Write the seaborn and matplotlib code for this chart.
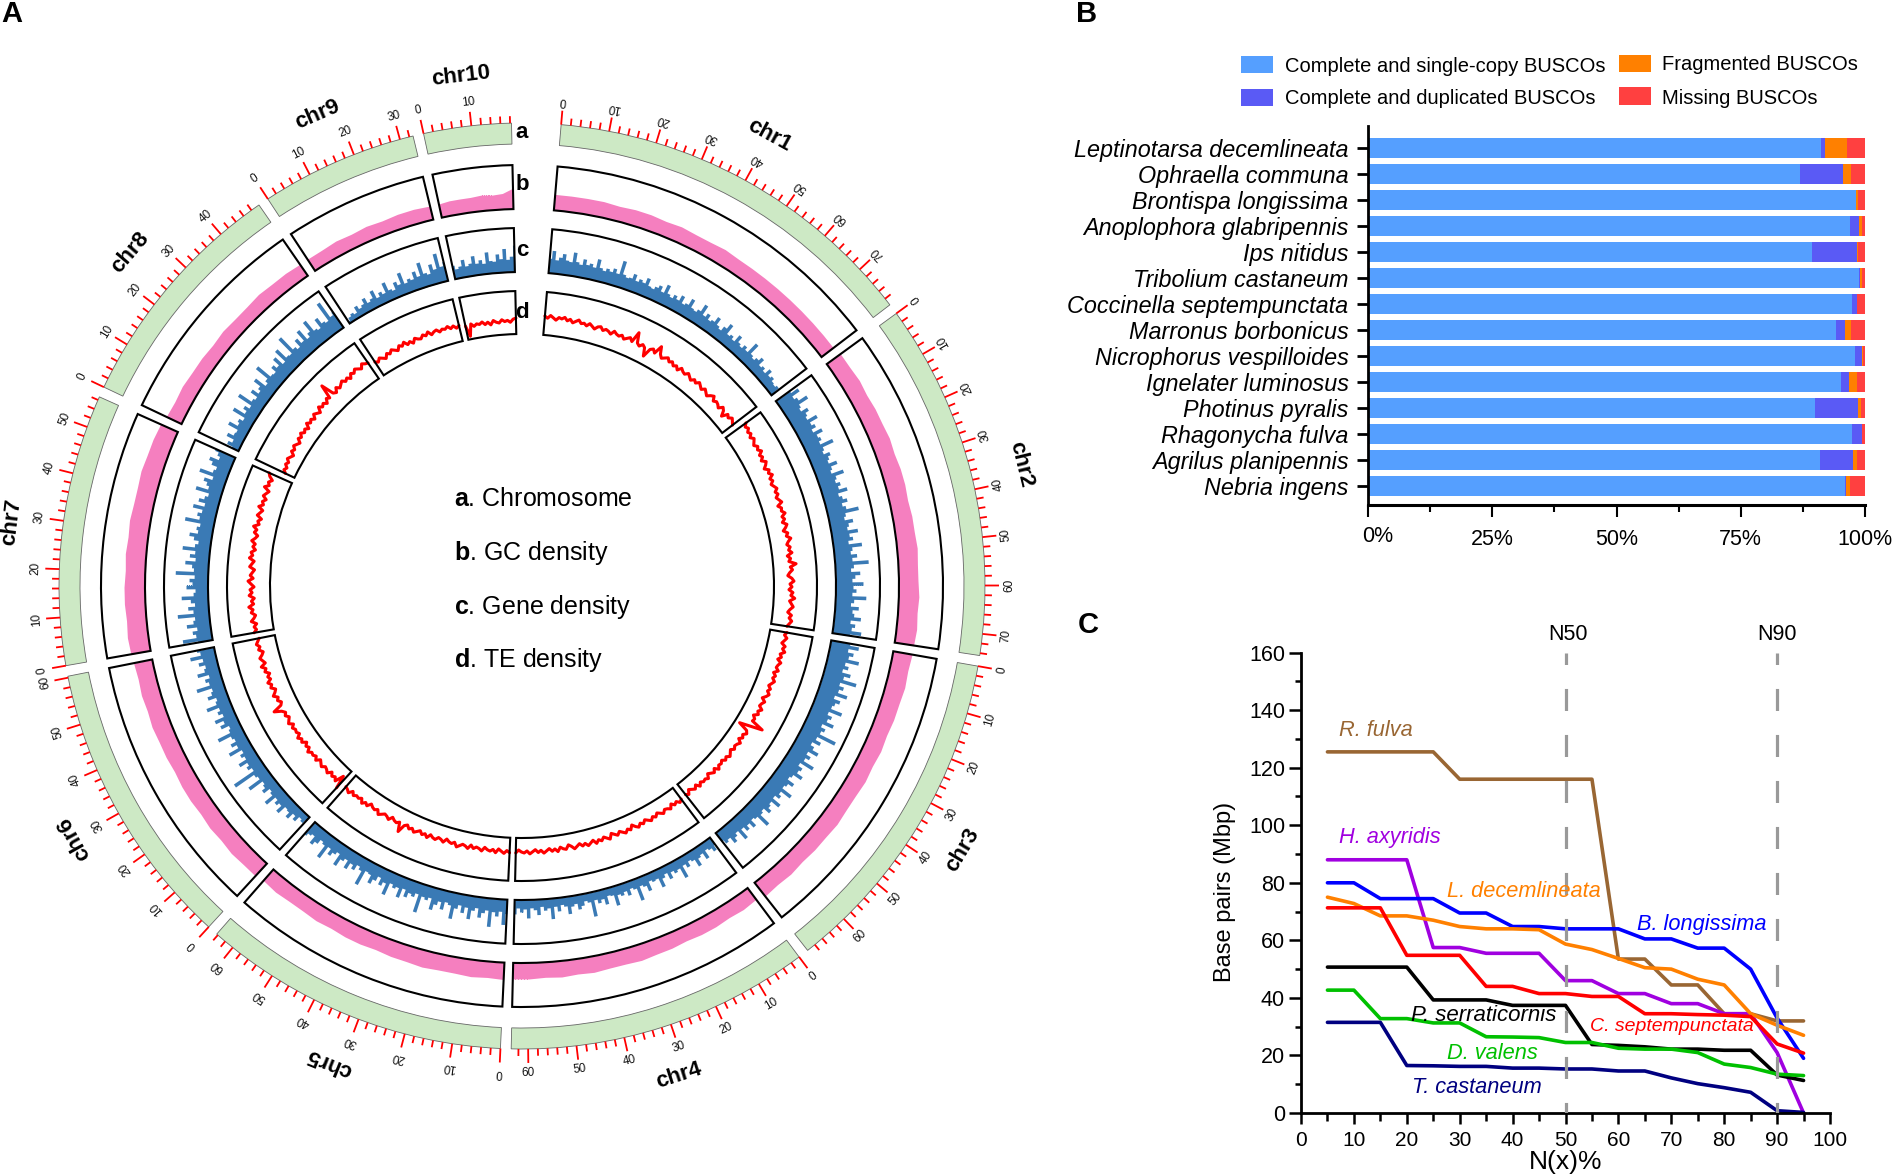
# -*- coding: utf-8 -*-
"""Genome assembly figure: circos overview, BUSCO bars and N(x) curves"""
import numpy as np
import pandas as pd
import seaborn as sns
import matplotlib.pyplot as plt
from matplotlib.patches import Rectangle
from matplotlib.ticker import MultipleLocator, FuncFormatter

W, H = 1895, 1176

sns.set_theme(style='ticks', rc={'text.color': 'black', 'axes.labelcolor': 'black',
                                 'xtick.color': 'black', 'ytick.color': 'black',
                                 'axes.edgecolor': 'black'})
plt.rcParams['font.family'] = ['Liberation Sans', 'DejaVu Sans']
plt.rcParams['mathtext.fontset'] = 'custom'
plt.rcParams['mathtext.bf'] = 'Liberation Sans:bold'
plt.rcParams['mathtext.rm'] = 'Liberation Sans'

# ========================
# Panel A data
# ========================
chr_names = ['chr1', 'chr2', 'chr3', 'chr4', 'chr5', 'chr6', 'chr7', 'chr8', 'chr9', 'chr10']
chr_len = [79.6, 74.5, 69.9, 63.5, 64.3, 60.3, 56.7, 49.9, 32.8, 18.3]

gc_chr1 = [16, 16, 16, 16, 15, 16, 16, 15, 16, 15, 15, 16, 15, 15, 15, 15, 15, 15, 15, 15, 15]
gc_chr2 = [17, 17, 18, 17, 18, 18, 19, 18, 19, 19, 18, 19, 19, 20, 19, 19, 20, 19, 20, 19]
gc_chr3 = [19, 18, 19, 18, 18, 17, 18, 17, 18, 17, 17, 18, 17, 17, 16, 17, 16, 17]
gc_chr4 = [14, 15, 14, 15, 15, 14, 15, 15, 16, 15, 15, 16, 15, 16, 15, 16, 16]
gc_chr5 = [17, 16, 17, 16, 16, 17, 16, 16, 15, 16, 16, 15, 16, 15, 15, 16, 15]
gc_chr6 = [17, 17, 18, 17, 18, 17, 18, 18, 17, 18, 18, 19, 18, 19, 18, 19]
gc_chr7 = [20, 21, 20, 21, 21, 20, 21, 20, 21, 20, 20, 21, 20, 20, 19]
gc_chr8 = [17, 16, 17, 16, 16, 15, 16, 15, 15, 16, 15, 15, 14]
gc_chr9 = [14, 14, 15, 14, 15, 14, 15, 15, 14]
gc_chr10 = [14, 15, 15, 15, 16, 15, 16, 21]

gene_chr1 = [15, 23, 14, 17, 21, 15, 14, 24, 15, 13, 19, 14, 16, 13, 22, 14, 12, 15, 13, 17, 13, 27, 14, 12, 13, 18,
             12, 15, 13, 19, 12, 11, 14, 17, 12, 21, 13, 11, 15, 12, 18, 11, 13, 20, 12, 11, 14, 22, 12, 16, 11, 13,
             19, 12, 10, 15, 21, 11, 13, 10, 18, 12, 10, 14, 11, 23, 12, 10, 13, 17, 10, 12, 9, 15, 10, 12, 9, 8, 10, 5]
gene_chr2 = [17, 25, 16, 19, 28, 17, 15, 22, 18, 16, 26, 17, 20, 15, 24, 17, 19, 16, 29, 17, 15, 21, 18, 16, 24,
             17, 15, 27, 18, 16, 20, 17, 25, 15, 18, 22, 16, 19, 31, 17, 15, 23, 18, 16, 26, 17, 20, 15, 28, 18,
             16, 22, 17, 33, 18, 15, 24, 19, 16, 27, 17, 20, 16, 30, 18, 15, 23, 17, 19, 26, 16, 21, 18, 28, 17]
gene_chr3 = [19, 28, 18, 24, 20, 31, 18, 22, 17, 26, 20, 34, 18, 23, 19, 29, 17, 24, 20, 18, 30, 17, 22, 19,
             27, 16, 21, 18, 36, 17, 23, 15, 19, 26, 16, 21, 17, 29, 15, 20, 18, 25, 16, 14, 22, 17, 15, 27,
             16, 19, 14, 24, 15, 17, 21, 14, 16, 28, 15, 13, 20, 14, 18, 13, 23, 12, 15, 19, 12, 14, 10]
gene_chr4 = [8, 13, 9, 7, 15, 8, 10, 17, 9, 7, 12, 8, 20, 9, 11, 8, 14, 7, 10, 18, 8, 9, 7, 16, 10, 8, 22, 9, 7, 13,
             8, 11, 9, 19, 8, 7, 15, 9, 12, 8, 24, 9, 7, 11, 14, 8, 10, 17, 9, 7, 13, 8, 20, 9, 11, 7, 15, 10, 8, 18,
             9, 12, 8, 14]
gene_chr5 = [14, 25, 12, 17, 13, 28, 12, 15, 20, 11, 14, 23, 12, 18, 11, 15, 26, 13, 11, 19, 12, 16, 22, 11, 14,
             12, 29, 11, 15, 13, 18, 11, 21, 12, 14, 11, 24, 13, 17, 10, 15, 20, 12, 11, 27, 13, 10, 16, 12, 19,
             11, 14, 22, 10, 13, 17, 11, 25, 12, 10, 15, 19, 11, 13, 16]
gene_chr6 = [5, 9, 7, 13, 9, 16, 11, 10, 19, 12, 15, 11, 22, 12, 10, 17, 13, 11, 26, 12, 14, 36, 12, 16, 13, 21, 12,
             15, 11, 24, 13, 18, 12, 14, 27, 13, 11, 19, 14, 22, 12, 16, 13, 25, 14, 12, 20, 15, 13, 28, 14, 17, 12,
             23, 15, 13, 19, 14, 26, 15, 18]
gene_chr7 = [15, 30, 16, 19, 14, 24, 17, 15, 32, 16, 21, 14, 18, 27, 15, 13, 22, 16, 19, 14, 33, 15, 17, 24, 14, 20,
             15, 28, 16, 13, 18, 23, 15, 17, 14, 30, 16, 19, 15, 25, 14, 21, 16, 13, 27, 15, 18, 22, 14, 29, 16, 14,
             20, 24, 15, 18, 22]
gene_chr8 = [8, 14, 10, 18, 12, 11, 22, 13, 15, 11, 25, 13, 17, 12, 28, 14, 12, 20, 13, 16, 24, 12, 15, 30, 14, 13,
             19, 15, 23, 13, 27, 15, 14, 33, 16, 13, 21, 15, 26, 14, 18, 29, 16, 14, 24, 17, 15, 35, 17, 20]
gene_chr9 = [3, 6, 8, 6, 12, 8, 10, 15, 9, 11, 18, 9, 13, 10, 20, 11, 9, 16, 12, 23, 11, 14, 12, 19, 13, 26, 14, 12,
             21, 15, 30, 16, 20]
gene_chr10 = [14, 10, 12, 18, 11, 13, 20, 12, 15, 11, 22, 13, 12, 19, 14, 24, 13, 16, 27]

te_chr1 = [19, 17, 20, 18, 16, 19, 18, 20, 17, 19, 16, 18, 20, 17, 18, 16, 19, 17, 15, 18, 19, 16, 18, 17, 15, 19, 17,
           16, 18, 15, 17, 19, 16, 27, 17, 15, 18, 16, 8, 17, 19, 16, 25, 18, 15, 17, 19, 16, 18, 15, 17, 14, 18, 16,
           15, 18, 16, 14, 17, 15, 18, 16, 14, 17, 15, 13, 16, 18, 14, 16, 15, 13, 17, 15, 10, 16, 14, 17, 15, 13]
te_chr2 = [25, 22, 24, 21, 23, 20, 23, 21, 19, 22, 20, 23, 19, 21, 18, 22, 20, 17, 21, 19, 22, 18, 20, 17, 19, 21,
           18, 20, 17, 19, 21, 16, 19, 18, 21, 17, 19, 16, 20, 18, 15, 19, 17, 21, 18, 16, 19, 17, 20, 15, 18, 16,
           23, 17, 19, 16, 14, 18, 20, 16, 18, 15, 19, 17, 21, 16, 18, 20, 17, 15, 19, 17, 20, 18, 16]
te_chr3 = [17, 15, 18, 16, 14, 18, 16, 19, 15, 17, 14, 18, 16, 15, 18, 14, 17, 15, 18, 16, 14, 17, 15, 18, 16, 13, 17,
           15, 14, 18, 15, 17, 13, 16, 15, 28, 16, 5, 15, 17, 14, 16, 13, 17, 15, 14, 16, 13, 15, 17, 14, 16, 13, 15,
           14, 17, 13, 16, 14, 12, 16, 14, 15, 13, 16, 12, 15, 13, 11, 15, 13]
te_chr4 = [14, 16, 13, 15, 12, 16, 14, 13, 16, 14, 12, 15, 13, 16, 14, 12, 15, 13, 16, 14, 11, 15, 13, 16, 14, 12,
           15, 13, 11, 16, 14, 12, 15, 13, 16, 12, 14, 16, 13, 15, 12, 14, 16, 13, 11, 15, 14, 12, 16, 13, 15, 12,
           14, 16, 13, 15, 12, 14, 16, 13, 15, 14, 12, 15]
te_chr5 = [15, 13, 16, 14, 12, 16, 13, 15, 14, 12, 16, 14, 13, 15, 12, 16, 14, 13, 15, 17, 13, 15, 14, 12, 16, 14,
           13, 16, 15, 13, 17, 14, 16, 13, 15, 17, 14, 16, 13, 15, 23, 14, 16, 15, 13, 17, 15, 14, 16, 18, 14, 16,
           15, 13, 17, 15, 18, 14, 16, 15, 17, 14, 18, 16, 15]
te_chr6 = [22, 9, 18, 15, 17, 14, 18, 16, 15, 18, 16, 14, 18, 15, 17, 16, 19, 15, 17, 14, 18, 16, 19, 15, 17, 16, 18,
           15, 19, 17, 15, 18, 16, 19, 26, 17, 15, 18, 16, 20, 17, 15, 19, 17, 20, 16, 18, 15, 19, 17, 21, 16, 18, 20,
           17, 15, 19, 17, 20, 18, 16]
te_chr7 = [20, 17, 19, 16, 21, 18, 16, 20, 18, 22, 17, 19, 16, 21, 18, 20, 16, 19, 22, 17, 20, 18, 16, 21, 19, 17, 22,
           19, 21, 17, 20, 18, 22, 19, 17, 21, 19, 23, 18, 20, 17, 22, 20, 18, 23, 19, 21, 18, 22, 20, 18, 24, 20, 22,
           19, 23, 25]
te_chr8 = [10, 13, 11, 14, 12, 15, 13, 11, 15, 13, 16, 14, 12, 16, 14, 17, 14, 16, 13, 18, 15, 17, 14, 18, 16, 14, 19,
           16, 18, 15, 19, 17, 31, 18, 16, 20, 17, 19, 21, 18, 20, 17, 21, 19, 22, 20, 18, 22, 20, 19]
te_chr9 = [16, 14, 17, 15, 13, 17, 15, 18, 16, 14, 18, 16, 19, 15, 17, 14, 18, 16, 15, 18, 16, 19, 15, 17, 18, 15,
           17, 16, 18, 15, 17, 14, 16]
te_chr10 = [14, 3, 15, 12, 14, 13, 15, 12, 14, 11, 15, 13, 12, 15, 13, 14, 12, 15, 16]

gc_density = [gc_chr1, gc_chr2, gc_chr3, gc_chr4, gc_chr5, gc_chr6, gc_chr7, gc_chr8, gc_chr9, gc_chr10]
gene_density = [gene_chr1, gene_chr2, gene_chr3, gene_chr4, gene_chr5, gene_chr6, gene_chr7, gene_chr8, gene_chr9,
                gene_chr10]
te_density = [te_chr1, te_chr2, te_chr3, te_chr4, te_chr5, te_chr6, te_chr7, te_chr8, te_chr9, te_chr10]

# ========================
# Panel B data
# ========================
busco_species = ['Leptinotarsa decemlineata', 'Ophraella communa', 'Brontispa longissima',
                 'Anoplophora glabripennis', 'Ips nitidus', 'Tribolium castaneum',
                 'Coccinella septempunctata', 'Marronus borbonicus', 'Nicrophorus vespilloides',
                 'Ignelater luminosus', 'Photinus pyralis', 'Rhagonycha fulva',
                 'Agrilus planipennis', 'Nebria ingens']
busco_single = [91.1, 87.0, 98.1, 96.9, 89.4, 98.8, 97.3, 94.2, 98.0, 95.2, 89.9, 97.3, 90.9, 96.0]
busco_dup = [0.9, 8.5, 0.0, 1.8, 8.9, 0.1, 1.0, 1.8, 1.4, 1.6, 8.7, 2.0, 6.7, 0.1]
busco_frag = [4.3, 1.6, 0.5, 0.7, 0.3, 0.4, 0.1, 1.1, 0.1, 1.6, 0.5, 0.1, 0.8, 0.8]
busco_missing = [3.7, 2.9, 1.4, 0.6, 1.4, 0.7, 1.6, 2.9, 0.5, 1.6, 0.9, 0.6, 1.6, 3.1]

# ========================
# Panel C data
# ========================
nx = [5, 10, 15, 20, 25, 30, 35, 40, 45, 50, 55, 60, 65, 70, 75, 80, 85, 90, 95]
r_fulva = [125.5, 125.5, 125.5, 125.5, 125.5, 116, 116, 116, 116, 116, 116, 53.5, 53.5, 44.5, 44.5, 34.5, 34.5, 32, 32]
h_axyridis = [88, 88, 88, 88, 57.5, 57.5, 55.5, 55.5, 55.5, 46, 46, 41.5, 41.5, 38, 38, 34.5, 34.5, 21, 0]
b_longissima = [80, 80, 74.5, 74.5, 74.5, 69.5, 69.5, 64.8, 64.8, 64, 64, 64, 60.5, 60.5, 57.3, 57.3, 50, 33, 19]
l_decemlineata = [75, 72.8, 68.5, 68.5, 67, 64.8, 64, 64, 63.7, 58.7, 56.8, 53.7, 50.5, 50, 46.5, 44.5, 34.5, 30.5, 27]
c_septempunctata = [71.3, 71.3, 71.3, 54.8, 54.8, 54.8, 44, 44, 41.5, 41.5, 40.5, 40.5, 34.5, 34.5, 34.2, 34, 33.5, 24,
                    20.8]
p_serraticornis = [50.7, 50.7, 50.7, 50.7, 39.3, 39.3, 39.3, 37.4, 37.4, 37.4, 23.8, 23.5, 23, 22.2, 22.2, 21.8, 21.8,
                   13.2, 11.3]
d_valens = [42.7, 42.7, 32.8, 32.8, 31.3, 31.3, 26.5, 26.4, 26.2, 24.5, 24.5, 22.5, 22.2, 22.2, 21, 17, 15.8, 13.5, 13]
t_castaneum = [31.5, 31.5, 31.5, 16.5, 16.4, 16.2, 16.2, 15.6, 15.6, 15.3, 15.3, 14.6, 14.6, 12.2, 10.2, 8.8, 7.2, 0.8,
               0.2]
curve_names = ['R. fulva', 'H. axyridis', 'B. longissima', 'L. decemlineata',
               'C. septempunctata', 'P. serraticornis', 'D. valens', 'T. castaneum']
curve_values = [r_fulva, h_axyridis, b_longissima, l_decemlineata,
                c_septempunctata, p_serraticornis, d_valens, t_castaneum]
curve_colors = ['#996633', '#A000E0', '#0000FF', '#FF8000', '#FF0000', '#000000', '#00C000', '#000080']
curve_label_x = [7.2, 7.2, 63.5, 27.6, 54.6, 20.7, 27.6, 20.9]
curve_label_y = [133, 95.7, 65.4, 77, 29.9, 34, 20.8, 8.9]
curve_label_size = [15.7, 15.7, 15.7, 15.7, 14, 16, 15.7, 15.7]

fig = plt.figure(figsize=(W / 100, H / 100), dpi=100, facecolor='white')


def axes_px(left, top, right, bottom, **kw):
    return fig.add_axes([left / W, 1 - bottom / H, (right - left) / W, (bottom - top) / H], **kw)


def text_px(x, y, s, **kw):
    kw.setdefault('va', 'center')
    return fig.text(x / W, 1 - y / H, s, **kw)


# ========================
# A. circos
# ========================
cx, cy, rmax = 522, 586, 560
ax_a = axes_px(cx - rmax, cy - rmax, cx + rmax, cy + rmax, projection='polar')
ax_a.set_theta_zero_location('N')
ax_a.set_theta_direction(-1)
ax_a.patch.set_alpha(0)

START_DEG = 4.85
GAP_DEG = 1.33
DEG_PER_MB = 0.6
R_A = (442, 463)
R_B = (377, 421)
R_C = (314, 358)
R_D = (252, 295)

start = START_DEG
for i, name in enumerate(chr_names):
    length = chr_len[i]

    def theta(pos):
        return np.deg2rad(start + np.asarray(pos) * DEG_PER_MB)

    width = theta(length) - theta(0)

    # track a
    ax_a.bar(theta(0), R_A[1] - R_A[0], width=width, bottom=R_A[0], align='edge',
             facecolor='#CDE9C5', edgecolor='#666666', linewidth=0.6)

    # GC density
    pos = np.linspace(0, length, len(gc_density[i]))
    ax_a.fill_between(theta(pos), R_B[0], R_B[0] + np.array(gc_density[i]), color='#F57FBF', linewidth=0)
    # gene density, stepped so the peaks stay narrow
    pos = np.linspace(0, length, len(gene_density[i]))
    ax_a.fill_between(theta(pos), R_C[0], R_C[0] + np.array(gene_density[i]), step='mid',
                      color='#3A7AB5', linewidth=0)
    # TE density
    pos = np.linspace(0, length, len(te_density[i]))
    sns.lineplot(x=theta(pos), y=R_D[0] + np.array(te_density[i]), color='#FF0000', linewidth=2.2,
                 estimator=None, sort=False, ax=ax_a)

    for r0, r1 in (R_B, R_C, R_D):
        ax_a.bar(theta(0), r1 - r0, width=width, bottom=r0, align='edge',
                 facecolor='none', edgecolor='black', linewidth=1.5, zorder=4)

    # scale ticks
    for mb in np.arange(0, length, 2):
        major = mb % 10 == 0
        ax_a.plot([theta(mb)] * 2, [R_A[1], 477 if major else 470], color='#FF0000',
                  linewidth=1.3, solid_capstyle='butt')
        if major:
            deg = start + mb * DEG_PER_MB
            rot = (180 - deg) if i < 4 else -deg
            ax_a.text(theta(mb), 487, f'{int(mb)}', rotation=rot, rotation_mode='anchor',
                      ha='center', va='center', fontsize=8.5, color='#111111')

    mid = start + length * DEG_PER_MB / 2
    rot = (180 - mid) if i in (2, 3) else -mid
    ax_a.text(np.deg2rad(mid), 514, name, rotation=rot, rotation_mode='anchor',
              ha='center', va='center', fontsize=16, fontweight='bold')
    start += length * DEG_PER_MB + GAP_DEG

ax_a.set_ylim(0, rmax)
ax_a.set_axis_off()

for letter, y in zip('abcd', [132, 184, 251, 312]):
    text_px(522, y, letter, fontsize=16, fontweight='bold', ha='center')

center_labels = ['Chromosome', 'GC density', 'Gene density', 'TE density']
for letter, label, y in zip('abcd', center_labels, [499, 553, 607, 660]):
    text_px(454, y, rf'$\mathbf{{{letter}}}$. {label}', fontsize=18, ha='left')

# ========================
# B. BUSCO bars
# ========================
ax_b = axes_px(1368, 126, 1865, 505)
single = np.array(busco_single)
dup_end = single + np.array(busco_dup)
frag_end = dup_end + np.array(busco_frag)
miss_end = frag_end + np.array(busco_missing)
busco_colors = {'Complete and single-copy BUSCOs': '#559FFF', 'Complete and duplicated BUSCOs': '#5A5AF5',
                'Fragmented BUSCOs': '#FF8000', 'Missing BUSCOs': '#FF4040'}

# stacked by overdrawing the cumulative widths, longest first
for cum, color in zip([miss_end, frag_end, dup_end, single], list(busco_colors.values())[::-1]):
    sns.barplot(x=cum, y=busco_species, color=color, saturation=1, width=0.78, orient='h',
                errorbar=None, linewidth=0, ax=ax_b)
ax_b.set_xlim(0, 100)
ax_b.set_ylim(13.74, -0.835)
sns.despine(ax=ax_b)
ax_b.spines['left'].set_linewidth(2)
ax_b.spines['bottom'].set_linewidth(2.2)
ax_b.xaxis.set_major_locator(MultipleLocator(25))
ax_b.xaxis.set_minor_locator(MultipleLocator(12.5))
# the 0% label sits a little right of its tick, it is placed by hand below
ax_b.xaxis.set_major_formatter(FuncFormatter(lambda v, _: f'{v:.0f}%' if v > 0 else ''))
ax_b.tick_params(axis='x', which='major', length=8.5, width=1.5, labelsize=15.5, pad=9)
ax_b.tick_params(axis='x', which='minor', length=5, width=1.5)
ax_b.tick_params(axis='y', length=8, width=2, labelsize=16.8, pad=6)
for lab in ax_b.get_yticklabels():
    lab.set_fontstyle('italic')
ax_b.set_xlabel('')
ax_b.set_ylabel('')
text_px(1378, 537, '0%', fontsize=15.5, ha='center')

legend_pos = [(1241, 56, 1285, 67), (1241, 89, 1285, 99), (1619, 55, 1662, 65), (1619, 87.5, 1662, 98)]
for (label, color), (bx, by, tx, ty) in zip(busco_colors.items(), legend_pos):
    fig.add_artist(Rectangle((bx / W, 1 - (by + 17) / H), 32 / W, 17 / H, transform=fig.transFigure,
                             facecolor=color, edgecolor='none'))
    text_px(tx, ty, label, fontsize=14.5, ha='left')

# ========================
# C. N(x) curves
# ========================
ax_c = axes_px(1301, 652.6, 1830, 1113)
curves = pd.DataFrame({
    'nx': nx * len(curve_names),
    'mbp': np.concatenate(curve_values),
    'species': np.repeat(curve_names, len(nx)),
})
sns.lineplot(data=curves, x='nx', y='mbp', hue='species', hue_order=curve_names,
             palette=dict(zip(curve_names, curve_colors)), linewidth=2.6,
             estimator=None, legend=False, ax=ax_c)
for x_ref in (50, 90):
    ax_c.axvline(x_ref, color='#999999', linewidth=2.3, linestyle=(3.6, (6.9, 7.5)), zorder=5)
ax_c.set_xlim(0, 100)
ax_c.set_ylim(0, 160)
sns.despine(ax=ax_c)
ax_c.spines['left'].set_linewidth(2)
ax_c.spines['bottom'].set_linewidth(2)
ax_c.xaxis.set_major_locator(MultipleLocator(10))
ax_c.xaxis.set_minor_locator(MultipleLocator(5))
ax_c.yaxis.set_major_locator(MultipleLocator(20))
ax_c.yaxis.set_minor_locator(MultipleLocator(10))
ax_c.tick_params(axis='x', which='major', length=8, width=1.8, labelsize=15, pad=5)
ax_c.tick_params(axis='x', which='minor', length=6, width=1.8)
ax_c.tick_params(axis='y', which='major', length=8.5, width=1.8, labelsize=15.5, pad=3)
ax_c.tick_params(axis='y', which='minor', length=4, width=1.8)
ax_c.set_xlabel('N(x)%', fontsize=19, labelpad=0)
ax_c.set_ylabel('Base pairs (Mbp)', fontsize=17, labelpad=9, y=0.48)
for name, color, tx, ty, size in zip(curve_names, curve_colors, curve_label_x, curve_label_y, curve_label_size):
    ax_c.text(tx, ty, name, color=color, style='italic', fontsize=size, ha='left', va='center', zorder=6)
text_px(1568, 634.5, 'N50', fontsize=15.5, ha='center')
text_px(1777, 634.5, 'N90', fontsize=15.5, ha='center')

# panel letters
text_px(12, 14, 'A', fontsize=21, fontweight='bold', ha='center')
text_px(1087, 14, 'B', fontsize=21, fontweight='bold', ha='center')
text_px(1088, 625, 'C', fontsize=21, fontweight='bold', ha='center')

fig.savefig('out.png', dpi=100)
